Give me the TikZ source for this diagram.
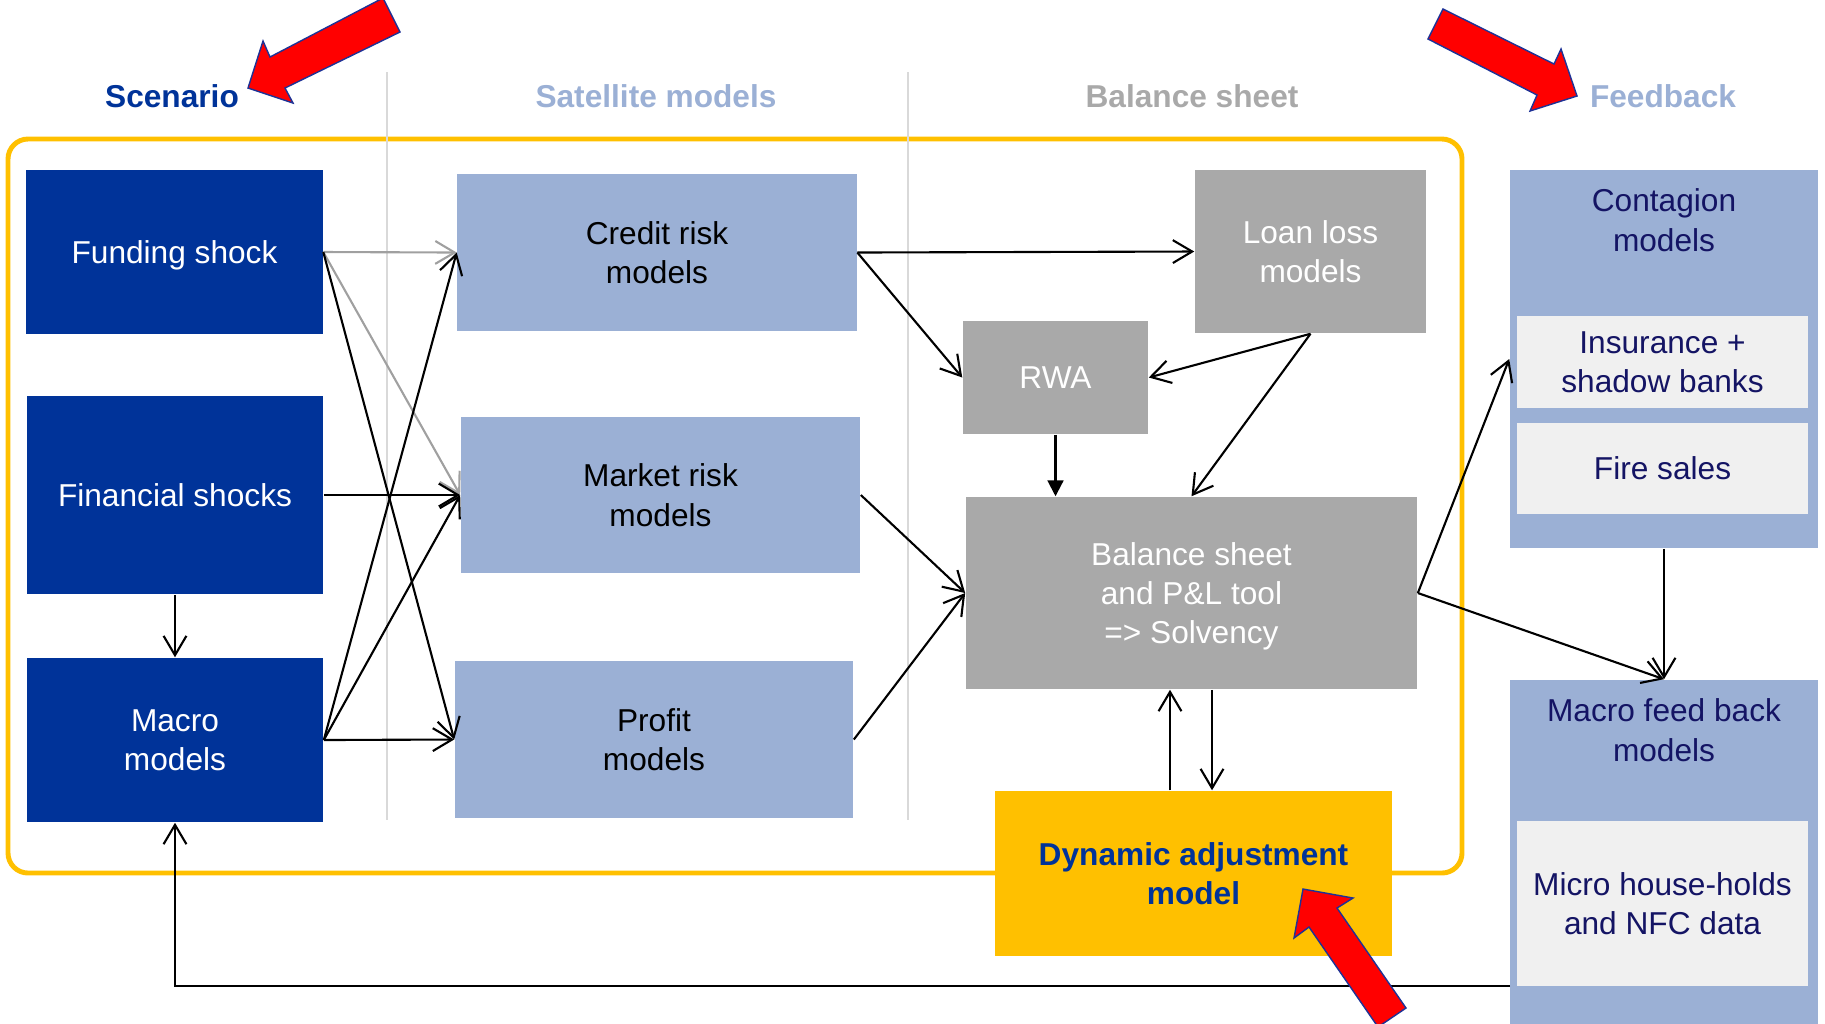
\documentclass[tikz,border=0pt]{standalone}
\usepackage{fontspec}
\setmainfont{Liberation Sans}
\usetikzlibrary{arrows.meta}

\definecolor{scenblue}{RGB}{0,51,153}
\definecolor{satblue}{RGB}{155,176,213}
\definecolor{bsgray}{RGB}{169,169,169}
\definecolor{innergray}{RGB}{240,240,240}
\definecolor{dynyellow}{RGB}{255,192,0}
\definecolor{navytext}{RGB}{20,20,100}
\definecolor{divgray}{RGB}{217,217,217}
\definecolor{linkgray}{RGB}{160,160,160}
\definecolor{rimblue}{RGB}{30,50,150}

\tikzset{
  box/.style={rectangle,inner sep=0pt,align=center,font=\fontsize{9}{11.2}\selectfont},
  scen/.style={box,fill=scenblue,text=white,minimum width=2.96cm},
  sat/.style={box,fill=satblue,text=black,minimum width=3.99cm,minimum height=1.57cm},
  bsbox/.style={box,fill=bsgray,text=white},
  fbbox/.style={box,fill=satblue,minimum width=3.08cm},
  inbox/.style={box,fill=innergray,text=navytext,minimum width=2.91cm},
  head/.style={anchor=base,font=\fontsize{9}{11}\selectfont\bfseries},
  link/.style={line width=0.6pt,-{Straight Barb[length=5.5pt,width=6.5pt]}},
  bigarrow/.style={fill=red,draw=rimblue,line width=0.4pt,line join=miter},
}

\begin{document}
\begin{tikzpicture}[x=0.01cm,y=-0.01cm]
\clip (0,0) rectangle (1825,1023);

\draw[dynyellow,line width=1.4pt,rounded corners=0.2cm] (8,139) rectangle (1462,873);
\foreach \x in {387,908}
	\draw[divgray,line width=0.8pt] (\x,72)--(\x,820);

\foreach \x/\id/\name/\col in {172/hscen/Scenario/scenblue,656/hsat/Satellite models/satblue,1192/hbs/Balance sheet/bsgray,1663/hfb/Feedback/satblue}
{
	\node[head,text=\col] (\id) at (\x,107) {\name};
}

\node[scen,minimum height=1.64cm,text depth=0pt] (fund) at (174.5,252) {Funding shock};
\node[scen,minimum height=1.98cm] (fin) at (175,495) {Financial shocks};
\node[scen,minimum height=1.64cm] (macro) at (175,740) {Macro\\models};

\node[sat] (credit) at (657,252.5) {Credit risk\\models};
\node[sat,minimum height=1.56cm] (market) at (660.5,495) {Market risk\\models};
\node[sat,minimum width=3.98cm] (profit) at (654,739.5) {Profit\\models};

\node[bsbox,minimum width=2.31cm,minimum height=1.63cm] (loan) at (1310.5,251.5) {Loan loss\\models};
\node[bsbox,minimum width=1.85cm,minimum height=1.13cm] (rwa) at (1055.5,377.5) {RWA};
\node[bsbox,minimum width=4.51cm,minimum height=1.92cm,text depth=0pt] (bs) at (1191.5,593) {Balance sheet\\and P\&L tool\\=> Solvency};
\node[box,fill=dynyellow,text=scenblue,font=\fontsize{9}{11.2}\selectfont\bfseries,minimum width=3.97cm,minimum height=1.65cm] (dyn) at (1193.5,873.5) {Dynamic adjustment\\model};

\node[fbbox,minimum height=3.78cm] (cont) at (1664,359) {};
\node[box,text=navytext] (conttitle) at (1664,220) {Contagion\\models};
\node[inbox,minimum height=0.92cm] (ins) at (1662.5,362) {Insurance +\\shadow banks};
\node[inbox,minimum height=0.91cm] (fire) at (1662.5,468.5) {Fire sales};
\node[fbbox,minimum height=3.5cm] (mfb) at (1664,855) {};
\node[box,text=navytext] (mfbtitle) at (1664,730) {Macro feed back\\models};
\node[inbox,minimum height=1.65cm] (micro) at (1662.5,903.5) {Micro house-holds\\and NFC data};

\draw[link,linkgray] (fund.east)--(credit.west);
\draw[link,linkgray] (fund.east)--(market.west);
\foreach \a/\b in {fund/profit,fin/market,macro/credit,macro/market,macro/profit,credit/loan,credit/rwa,market/bs,profit/bs}
{
	\draw[link] (\a.east)--(\b.west);
}
\draw[link] (fin.south)--(macro.north);
\draw[link] (loan.south)--(rwa.east);
\draw[link] (loan.south)--(bs.north);
\draw[line width=0.6pt,-{Triangle[length=4.5pt,width=4.5pt]}] (rwa.south)--(rwa.south |- bs.north);
\draw[link] ([xshift=-0.235cm]dyn.north)--([xshift=-0.235cm]dyn.north |- bs.south);
\draw[link] ([xshift=0.185cm]dyn.north |- bs.south)--([xshift=0.185cm]dyn.north);
\draw[link] (bs.east)--(cont.west);
\draw[link] (bs.east)--(mfb.north);
\draw[link] (cont.south)--(mfb.north);
\coordinate (fbk) at (1510,986);
\draw[link] (fbk) -| (macro.south);

\path[bigarrow] (248,88)--(263,41)--(270,57)--(383,-2)--(400,32)--(285,88)--(293,103)--cycle;
\path[bigarrow] (1577,96)--(1561,49)--(1554,64)--(1443,9)--(1428,39)--(1537,95)--(1530,111)--cycle;
\path[bigarrow] (1303,889)--(1353,898)--(1337,908)--(1406,1008)--(1378,1027)--(1309,927)--(1294,938)--cycle;

\end{tikzpicture}
\end{document}
